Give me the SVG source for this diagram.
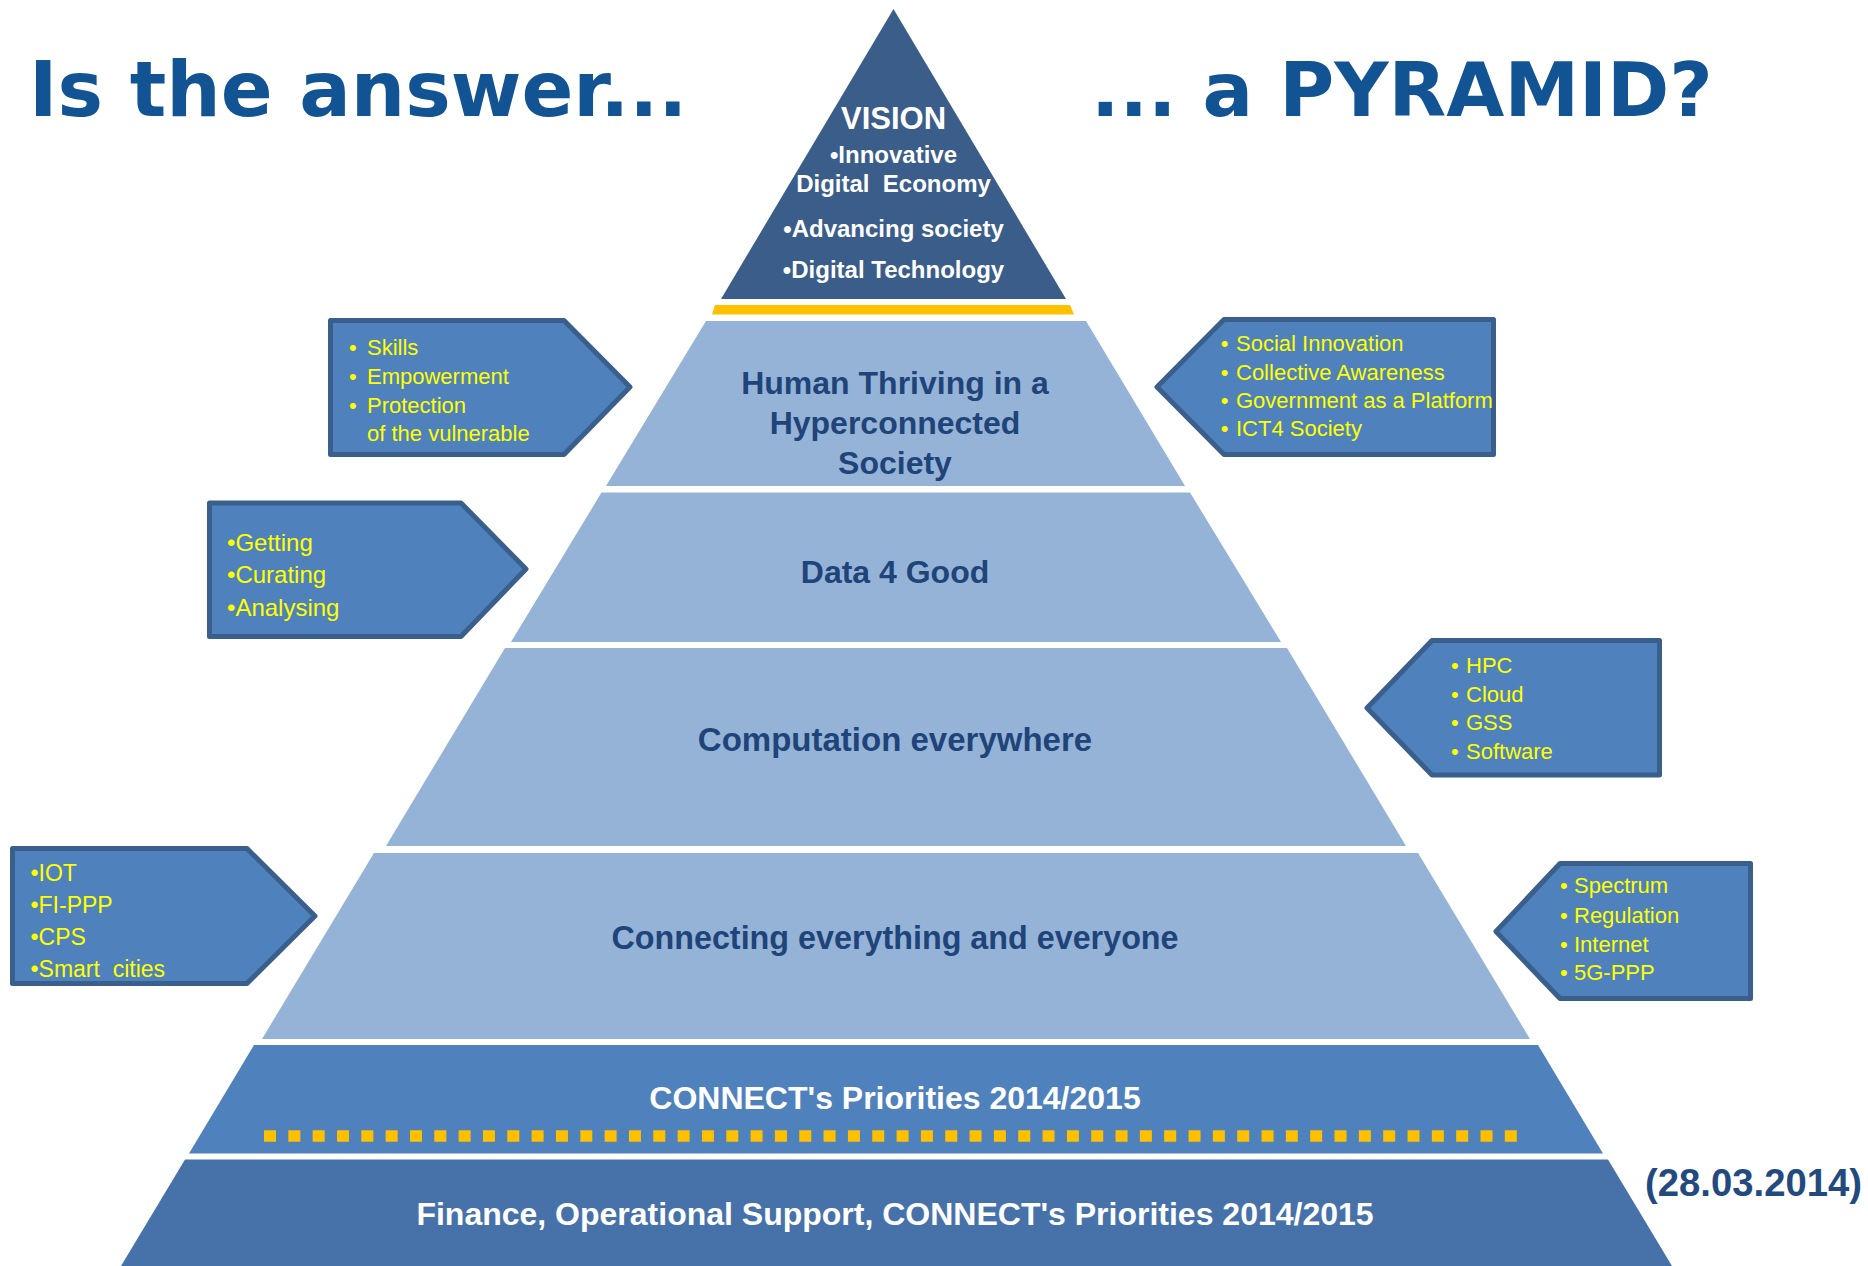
<svg xmlns="http://www.w3.org/2000/svg" width="1868" height="1266" viewBox="0 0 1868 1266">
<style>
.title{font-family:"DejaVu Sans",Verdana,sans-serif;font-weight:bold;font-size:75px;fill:#125394}
.lt{fill:#95b3d7}
.lay{font-family:"Liberation Sans",Arial,sans-serif;font-weight:bold;font-size:32px;text-anchor:middle}
.dk{fill:#1f4479}
.wh{fill:#ffffff}
.vis{font-family:"Liberation Sans",Arial,sans-serif;font-weight:bold;font-size:24px;fill:#ffffff;text-anchor:middle}
.box{fill:#4f81bd;stroke:#3a5f8c;stroke-width:5;stroke-linejoin:round}
.bt{font-family:"Liberation Sans",Arial,sans-serif;font-size:22px;fill:#ffff00}
.b24{font-size:24px}
.b23{font-size:23px}
</style>
<rect width="1868" height="1266" fill="#ffffff"/>
<g id="titles">
<text class="title" x="29" y="116" style="font-size:76.5px">Is the answer...</text>
<text class="title" x="1091" y="116">... a PYRAMID?</text>
</g>
<g id="vision">
<polygon points="893.5,9 1066,299 721,299" fill="#3b5d8a"/>
<text class="vis" x="893.5" y="129" style="font-size:31px">VISION</text>
<text class="vis" x="893.5" y="162.7">•Innovative</text>
<text class="vis" x="893.5" y="191.7" xml:space="preserve">Digital  Economy</text>
<text class="vis" x="893.5" y="236.7">•Advancing society</text>
<text class="vis" x="893.5" y="277.7">•Digital Technology</text>
</g>
<g id="yellow-band">
<polygon points="715,305 1070,305 1074,314.5 712,314.5" fill="#ffc000"/>
</g>
<g id="layer-human">
<polygon class="lt" points="706,321 1086,321 1185,486 606,486"/>
<text class="lay dk" x="895" y="393.6">Human Thriving in a</text>
<text class="lay dk" x="895" y="434">Hyperconnected</text>
<text class="lay dk" x="895" y="474.4">Society</text>
</g>
<g id="layer-data">
<polygon class="lt" points="601.5,492.5 1190,492.5 1281,642 511,642"/>
<text class="lay dk" x="895" y="583">Data 4 Good</text>
</g>
<g id="layer-computation">
<polygon class="lt" points="505,648 1287,648 1406,846 386,846"/>
<text class="lay dk" x="895" y="751" style="font-size:33px">Computation everywhere</text>
</g>
<g id="layer-connecting">
<polygon class="lt" points="374,853 1418,853 1530,1039 262,1039"/>
<text class="lay dk" x="895" y="948.7" style="font-size:32.3px">Connecting everything and everyone</text>
</g>
<g id="layer-priorities">
<polygon points="254,1045 1538,1045 1603,1153.5 189,1153.5" fill="#4f81bd"/>
<text class="lay wh" x="895" y="1109">CONNECT's Priorities 2014/2015</text>
<line x1="264" y1="1136" x2="1517" y2="1136" stroke="#ffc000" stroke-width="11.5" stroke-dasharray="12 12.33"/>
</g>
<g id="layer-finance">
<polygon points="185,1159.5 1608,1159.5 1672,1266 121,1266" fill="#4772a9"/>
<text class="lay wh" x="895" y="1225">Finance, Operational Support, CONNECT's Priorities 2014/2015</text>
</g>
<g id="date">
<text x="1645" y="1195.7" font-family="Liberation Sans, Arial, sans-serif" font-weight="bold" font-size="38" fill="#234a7e" textLength="217" lengthAdjust="spacingAndGlyphs">(28.03.2014)</text>
</g>
<g id="connectors"></g>
<g id="callout-skills">
<polygon class="box" points="330.5,320.5 564,320.5 630,387 564,454.5 330.5,454.5"/>
<text class="bt" x="349" y="355.3">•</text><text class="bt" x="367" y="355.3">Skills</text>
<text class="bt" x="349" y="384.3">•</text><text class="bt" x="367" y="384.3">Empowerment</text>
<text class="bt" x="349" y="413.4">•</text><text class="bt" x="367" y="413.4">Protection</text>
<text class="bt" x="367" y="441.3">of the vulnerable</text>
</g>
<g id="callout-social">
<polygon class="box" points="1157,387 1224,319.5 1493.5,319.5 1493.5,454.5 1224,454.5"/>
<text class="bt" x="1220.7" y="351.2">•</text><text class="bt" x="1236" y="351.2">Social Innovation</text>
<text class="bt" x="1220.7" y="379.5">•</text><text class="bt" x="1236" y="379.5">Collective Awareness</text>
<text class="bt" x="1220.7" y="407.8">•</text><text class="bt" x="1236" y="407.8">Government as a Platform</text>
<text class="bt" x="1220.7" y="436">•</text><text class="bt" x="1236" y="436">ICT4 Society</text>
</g>
<g id="callout-data">
<polygon class="box" points="209.5,503 461,503 526,569 461,636.5 209.5,636.5"/>
<text class="bt b24" x="227" y="551">•Getting</text>
<text class="bt b24" x="227" y="583">•Curating</text>
<text class="bt b24" x="227" y="615.7">•Analysing</text>
</g>
<g id="callout-hpc">
<polygon class="box" points="1367,708 1432,640.5 1659.5,640.5 1659.5,775 1432,775"/>
<text class="bt" x="1451" y="672.6">•</text><text class="bt" x="1466" y="672.6">HPC</text>
<text class="bt" x="1451" y="701.6">•</text><text class="bt" x="1466" y="701.6">Cloud</text>
<text class="bt" x="1451" y="730">•</text><text class="bt" x="1466" y="730">GSS</text>
<text class="bt" x="1451" y="759">•</text><text class="bt" x="1466" y="759">Software</text>
</g>
<g id="callout-iot">
<polygon class="box" points="12.5,848.5 247,848.5 315,916 247,983.5 12.5,983.5"/>
<text class="bt b23" x="30.5" y="880.7">•IOT</text>
<text class="bt b23" x="30.5" y="912.8">•FI-PPP</text>
<text class="bt b23" x="30.5" y="944.7">•CPS</text>
<text class="bt b23" x="30.5" y="977" xml:space="preserve">•Smart  cities</text>
</g>
<g id="callout-spectrum">
<polygon class="box" points="1496,931.5 1560,863.5 1750.5,863.5 1750.5,998.5 1560,998.5"/>
<text class="bt" x="1560" y="893.4">•</text><text class="bt" x="1574" y="893.4">Spectrum</text>
<text class="bt" x="1560" y="922.5">•</text><text class="bt" x="1574" y="922.5">Regulation</text>
<text class="bt" x="1560" y="952">•</text><text class="bt" x="1574" y="952">Internet</text>
<text class="bt" x="1560" y="980">•</text><text class="bt" x="1574" y="980">5G-PPP</text>
</g>
</svg>
